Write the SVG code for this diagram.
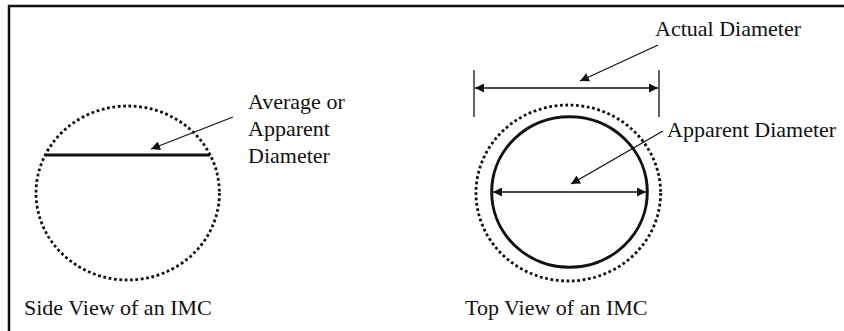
<svg xmlns="http://www.w3.org/2000/svg" width="844" height="331" viewBox="0 0 844 331">
<style>
.txt{font-family:"Liberation Serif","Times New Roman",serif;font-size:22px;fill:#111}
.dot{fill:none;stroke:#111;stroke-width:2.8;stroke-dasharray:2.8 2.6}
.solid{fill:none;stroke:#111;stroke-width:3}
.arr{fill:none;stroke:#111;stroke-width:1.3}
</style>
<defs>
<marker id="ah" viewBox="0 0 10 10" refX="10" refY="5" markerWidth="12" markerHeight="9" orient="auto-start-reverse" markerUnits="userSpaceOnUse">
<path d="M0,0 L10,5 L0,10 z" fill="#111"/>
</marker>
</defs>
<rect width="844" height="331" fill="#fff"/>
<path d="M9,331 V6 H844" fill="none" stroke="#111" stroke-width="2.5"/>

<g id="side-view">
<ellipse class="dot" cx="127.7" cy="193" rx="91.7" ry="87"/>
<line class="solid" x1="45.5" y1="155" x2="210" y2="155"/>
<text class="txt" x="24" y="315">Side View of an IMC</text>
</g>

<g id="side-label">
<text class="txt" x="248" y="109">Average or</text>
<text class="txt" x="248" y="136">Apparent</text>
<text class="txt" x="248" y="163">Diameter</text>
</g>

<g id="top-view">
<ellipse class="dot" cx="568.3" cy="193" rx="92.3" ry="88"/>
<ellipse class="solid" cx="569.5" cy="192" rx="77.8" ry="75.3"/>
<line x1="474" y1="70" x2="474" y2="117" stroke="#111" stroke-width="1.3"/>
<line x1="659" y1="70" x2="659" y2="117" stroke="#111" stroke-width="1.3"/>
<text class="txt" x="465" y="315">Top View of an IMC</text>
</g>

<g id="actual-label">
<text class="txt" x="655" y="36">Actual Diameter</text>
</g>

<g id="apparent-label">
<text class="txt" x="667" y="137">Apparent Diameter</text>
</g>

<g id="connectors">
<line class="arr" x1="233" y1="117" x2="151" y2="149" marker-end="url(#ah)"/>
<line class="arr" x1="658" y1="45" x2="580" y2="81" marker-end="url(#ah)"/>
<line class="arr" x1="663" y1="131" x2="571" y2="184" marker-end="url(#ah)"/>
<line class="arr" x1="475" y1="88" x2="658" y2="88" marker-start="url(#ah)" marker-end="url(#ah)"/>
<line class="arr" x1="493" y1="192" x2="646" y2="192" marker-start="url(#ah)" marker-end="url(#ah)"/>
</g>
</svg>
